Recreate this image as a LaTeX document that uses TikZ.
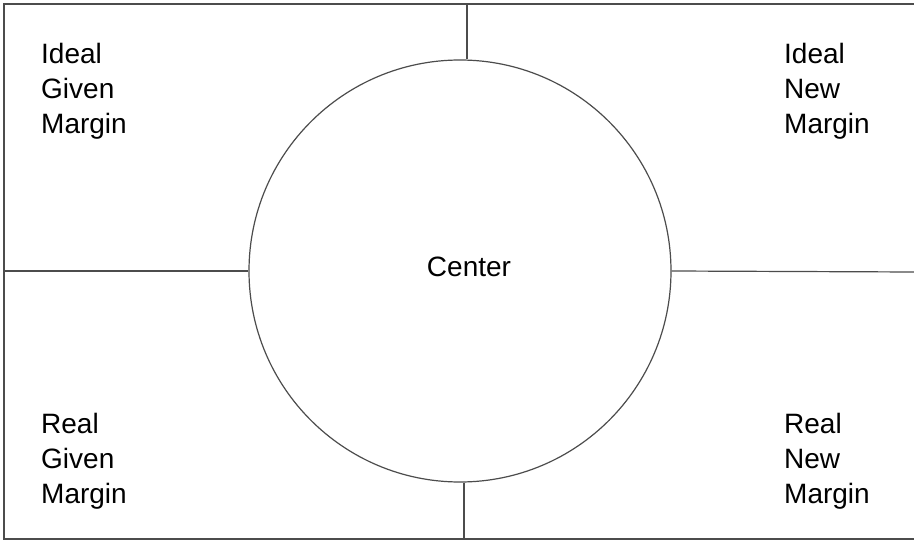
\documentclass[tikz,border=0pt]{standalone}
\usepackage{fontspec}
\setmainfont{Liberation Sans}
\begin{document}
\begin{tikzpicture}[x=1pt,y=-1pt,
  ln/.style={draw=black!70,line width=1.2pt},
  lbl/.style={anchor=base west,align=left,inner sep=0pt,font=\fontsize{28}{35}\selectfont},
  ctr/.style={font=\fontsize{28}{35}\selectfont,inner sep=0pt}]
\useasboundingbox (0,0) rectangle (914,540);
\fill[white] (0,0) rectangle (914,540);
\coordinate (tl) at (4,4);
\coordinate (tr) at (914,4);
\coordinate (bl) at (4,539);
\coordinate (br) at (914,539);
\coordinate (ttop) at (467,4);
\coordinate (bbot) at (464,539);
\coordinate (lmid) at (4,271);
\coordinate (rmid) at (914,272);
\draw[ln] (tr) -- (tl) -- (bl) -- (br);
\node[circle,ln,minimum size=422pt,inner sep=0pt] (circ) at (460,271) {};
\node[ctr] (center) at (469,267) {Center};
\draw[ln] (ttop) -- (ttop |- circ.north);
\draw[ln] (bbot) -- (bbot |- circ.south);
\draw[ln] (lmid) -- (circ.west);
\draw[ln] (circ.east) -- (rmid);
\node[lbl] (igm) at (41,134) {Ideal\\Given\\Margin};
\node[lbl] (inm) at (784,134) {Ideal\\New\\Margin};
\node[lbl] (rgm) at (41,503) {Real\\Given\\Margin};
\node[lbl] (rnm) at (784,503) {Real\\New\\Margin};
\end{tikzpicture}
\end{document}
